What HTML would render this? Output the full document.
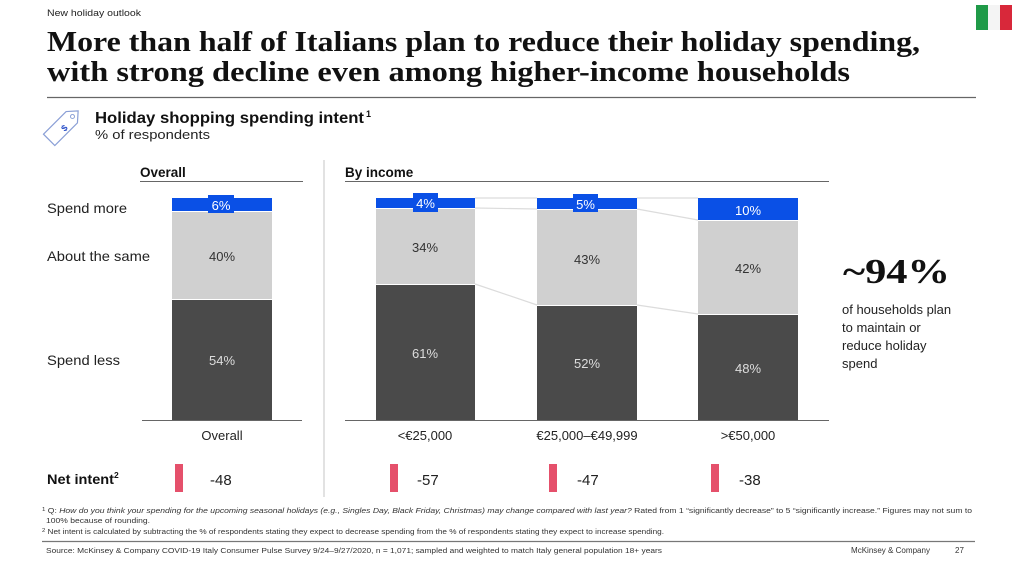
<!DOCTYPE html>
<html><head><meta charset="utf-8"><style>
html,body{margin:0;padding:0;background:#fff;}
svg{display:block;}
text{font-family:"Liberation Sans",Arial,sans-serif;}
.serif{font-family:"Liberation Serif","Times New Roman",serif;font-weight:bold;}
</style></head><body>
<svg width="1024" height="568" viewBox="0 0 1024 568" xmlns="http://www.w3.org/2000/svg">
<rect width="1024" height="568" fill="#fff"/>
<!-- header -->
<text x="47" y="16" font-size="9" fill="#222" textLength="94" lengthAdjust="spacingAndGlyphs">New holiday outlook</text>
<text class="serif" x="47" y="51" font-size="28" fill="#111" textLength="873" lengthAdjust="spacingAndGlyphs">More than half of Italians plan to reduce their holiday spending,</text>
<text class="serif" x="47" y="81" font-size="28" fill="#111" textLength="803" lengthAdjust="spacingAndGlyphs">with strong decline even among higher-income households</text>
<line x1="47" y1="97.5" x2="976" y2="97.5" stroke="#666" stroke-width="1.3"/>
<!-- flag -->
<rect x="976" y="5" width="12" height="25" fill="#1f9a48"/>
<rect x="988" y="5" width="12" height="25" fill="#f4f4f4"/>
<rect x="1000" y="5" width="12" height="25" fill="#d8283a"/>
<!-- icon -->
<g transform="translate(64,125) rotate(-45)">
<path d="M-21,-8 L11,-8 L20,0 L11,8 L-21,8 Z" fill="none" stroke="#8a9fd6" stroke-width="1.2"/>
<circle cx="12" cy="0" r="2" fill="none" stroke="#8a9fd6" stroke-width="1"/>
</g>
<text x="61" y="131" font-size="9" fill="#2a4fc8" font-weight="bold" transform="rotate(-45 64 127)">$</text>
<text x="95" y="123" font-size="15.5" font-weight="bold" fill="#111" textLength="269" lengthAdjust="spacingAndGlyphs">Holiday shopping spending intent</text>
<text x="366" y="117" font-size="9" font-weight="bold" fill="#111">1</text>
<text x="95" y="139" font-size="13" fill="#222" textLength="115" lengthAdjust="spacingAndGlyphs">% of respondents</text>

<!-- section headers -->
<text x="140" y="177" font-size="13.5" font-weight="bold" fill="#111">Overall</text>
<line x1="140" y1="181.5" x2="303" y2="181.5" stroke="#666" stroke-width="1"/>
<text x="345" y="177" font-size="13.5" font-weight="bold" fill="#111">By income</text>
<line x1="345" y1="181.5" x2="829" y2="181.5" stroke="#666" stroke-width="1"/>
<line x1="324" y1="160" x2="324" y2="497" stroke="#cfcfcf" stroke-width="1.2"/>

<!-- row labels -->
<text x="47" y="213" font-size="14" fill="#222" textLength="80" lengthAdjust="spacingAndGlyphs">Spend more</text>
<text x="47" y="261" font-size="14" fill="#222" textLength="103" lengthAdjust="spacingAndGlyphs">About the same</text>
<text x="47" y="365" font-size="14" fill="#222" textLength="73" lengthAdjust="spacingAndGlyphs">Spend less</text>

<!-- connecting lines -->
<g stroke="#dcdcdc" stroke-width="1.2">
<line x1="475" y1="198" x2="537" y2="198"/><line x1="637" y1="198" x2="698" y2="198"/>
<line x1="475" y1="208" x2="537" y2="209"/><line x1="637" y1="209" x2="698" y2="220"/>
<line x1="475" y1="284" x2="537" y2="305"/><line x1="637" y1="305" x2="698" y2="314"/>
</g>

<!-- overall bar -->
<rect x="172" y="198" width="100" height="13" fill="#0a50e6"/>
<rect x="172" y="212" width="100" height="87" fill="#d0d0d0"/>
<rect x="172" y="300" width="100" height="120" fill="#4a4a4a"/>
<rect x="208" y="195" width="26" height="18" fill="#0a50e6"/>
<text x="221" y="210" font-size="13" fill="#fff" text-anchor="middle">6%</text>
<text x="222" y="261" font-size="13" fill="#333" text-anchor="middle">40%</text>
<text x="222" y="365" font-size="13" fill="#ddd" text-anchor="middle">54%</text>

<!-- income bar 1 -->
<rect x="376" y="198" width="99" height="10" fill="#0a50e6"/>
<rect x="376" y="209" width="99" height="75" fill="#d0d0d0"/>
<rect x="376" y="285" width="99" height="135" fill="#4a4a4a"/>
<rect x="413" y="193" width="25" height="19" fill="#0a50e6"/>
<text x="425.5" y="208" font-size="13" fill="#fff" text-anchor="middle">4%</text>
<text x="425" y="252" font-size="13" fill="#333" text-anchor="middle">34%</text>
<text x="425" y="358" font-size="13" fill="#ddd" text-anchor="middle">61%</text>

<!-- income bar 2 -->
<rect x="537" y="198" width="100" height="11" fill="#0a50e6"/>
<rect x="537" y="210" width="100" height="95" fill="#d0d0d0"/>
<rect x="537" y="306" width="100" height="114" fill="#4a4a4a"/>
<rect x="573" y="194" width="25" height="18" fill="#0a50e6"/>
<text x="585.5" y="209" font-size="13" fill="#fff" text-anchor="middle">5%</text>
<text x="587" y="264" font-size="13" fill="#333" text-anchor="middle">43%</text>
<text x="587" y="368" font-size="13" fill="#ddd" text-anchor="middle">52%</text>

<!-- income bar 3 -->
<rect x="698" y="198" width="100" height="22" fill="#0a50e6"/>
<rect x="698" y="221" width="100" height="93" fill="#d0d0d0"/>
<rect x="698" y="315" width="100" height="105" fill="#4a4a4a"/>
<text x="748" y="215" font-size="13" fill="#fff" text-anchor="middle">10%</text>
<text x="748" y="273" font-size="13" fill="#333" text-anchor="middle">42%</text>
<text x="748" y="373" font-size="13" fill="#ddd" text-anchor="middle">48%</text>

<!-- axes -->
<line x1="142" y1="420.5" x2="302" y2="420.5" stroke="#666" stroke-width="1"/>
<line x1="345" y1="420.5" x2="829" y2="420.5" stroke="#666" stroke-width="1"/>
<text x="222" y="440" font-size="13" fill="#222" text-anchor="middle">Overall</text>
<text x="425" y="440" font-size="13" fill="#222" text-anchor="middle">&lt;€25,000</text>
<text x="587" y="440" font-size="13" fill="#222" text-anchor="middle">€25,000–€49,999</text>
<text x="748" y="440" font-size="13" fill="#222" text-anchor="middle">&gt;€50,000</text>

<!-- net intent -->
<text x="47" y="484" font-size="13.5" font-weight="bold" fill="#111" textLength="67" lengthAdjust="spacingAndGlyphs">Net intent</text>
<text x="114" y="478" font-size="8.5" font-weight="bold" fill="#111">2</text>
<g fill="#e5506b">
<rect x="175" y="464" width="8" height="28"/>
<rect x="390" y="464" width="8" height="28"/>
<rect x="549" y="464" width="8" height="28"/>
<rect x="711" y="464" width="8" height="28"/>
</g>
<g font-size="15" fill="#222">
<text x="210" y="485">-48</text>
<text x="417" y="485">-57</text>
<text x="577" y="485">-47</text>
<text x="739" y="485">-38</text>
</g>

<!-- callout -->
<text class="serif" x="843" y="283" font-size="35" fill="#111" textLength="107" lengthAdjust="spacingAndGlyphs">~94%</text>
<g font-size="13" fill="#222">
<text x="842" y="314">of households plan</text>
<text x="842" y="332">to maintain or</text>
<text x="842" y="350">reduce holiday</text>
<text x="842" y="368">spend</text>
</g>

<!-- footnotes -->
<g font-size="7" fill="#333">
<text x="42" y="513" textLength="930" lengthAdjust="spacingAndGlyphs"><tspan font-size="5" dy="-2">1</tspan><tspan dy="2"> Q: </tspan><tspan font-style="italic">How do you think your spending for the upcoming seasonal holidays (e.g., Singles Day, Black Friday, Christmas) may change compared with last year?</tspan> Rated from 1 “significantly decrease” to 5 “significantly increase.” Figures may not sum to</text>
<text x="46" y="523" font-size="7.5" textLength="104" lengthAdjust="spacingAndGlyphs">100% because of rounding.</text>
<text x="42" y="534" textLength="622" lengthAdjust="spacingAndGlyphs"><tspan font-size="5" dy="-2">2</tspan><tspan dy="2"> Net intent is calculated by subtracting the % of respondents stating they expect to decrease spending from the % of respondents stating they expect to increase spending.</tspan></text>
</g>
<line x1="42" y1="541.5" x2="975" y2="541.5" stroke="#777" stroke-width="1.2"/>
<text x="46" y="553" font-size="7" fill="#333" textLength="616" lengthAdjust="spacingAndGlyphs">Source: McKinsey &amp; Company COVID-19 Italy Consumer Pulse Survey 9/24–9/27/2020, n = 1,071; sampled and weighted to match Italy general population 18+ years</text>
<text x="851" y="553" font-size="8" fill="#333" textLength="79" lengthAdjust="spacingAndGlyphs">McKinsey &amp; Company</text>
<text x="955" y="553" font-size="8" fill="#333">27</text>
</svg>
</body></html>
